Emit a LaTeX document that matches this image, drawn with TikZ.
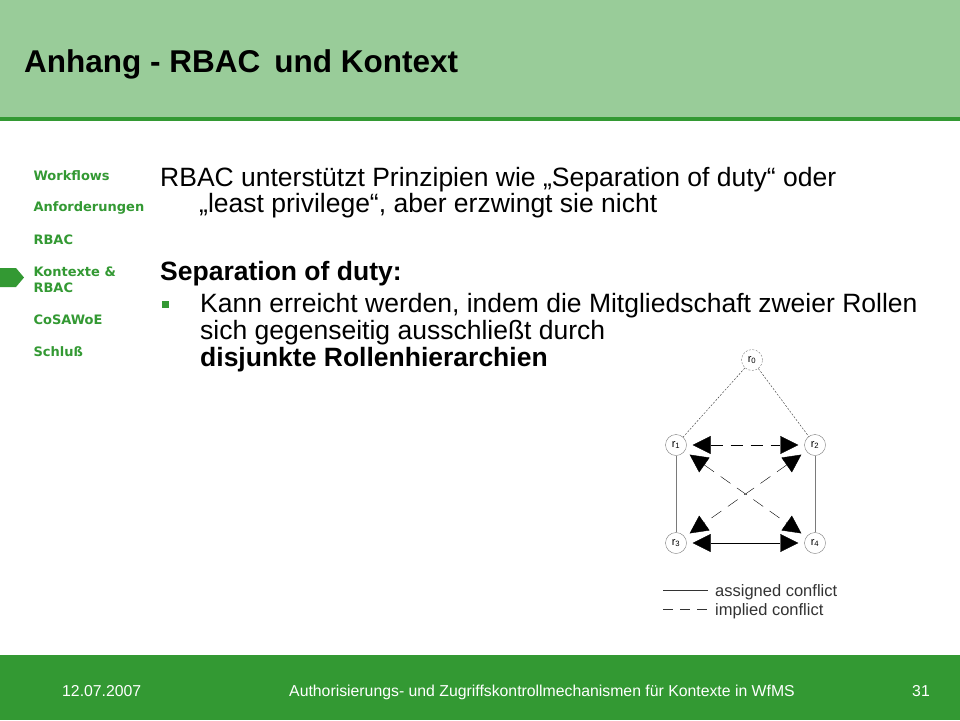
\documentclass[tikz,border=0pt]{standalone}
\usepackage{fontspec}
\setmainfont{Liberation Sans}
\newfontfamily\navfont{DejaVu Sans}
\usetikzlibrary{arrows.meta}
\definecolor{headgreen}{HTML}{99CC99}
\definecolor{darkgreen}{HTML}{339933}
\definecolor{linegray}{HTML}{7A7A7A}
\definecolor{textgray}{HTML}{333333}

\begin{document}
\begin{tikzpicture}[x=1pt,y=-1pt,
        role/.style={circle,draw=linegray,minimum size=21pt,inner sep=0pt,font=\fontsize{11}{11}\selectfont},
        nav/.style={anchor=west,align=left,text=darkgreen,font=\navfont\bfseries\fontsize{13}{16}\selectfont},
        body/.style={anchor=base west,inner sep=0pt,font=\fontsize{26.5}{26.5}\selectfont},
        conflict/.style={{Triangle[length=18pt,width=18pt]}-{Triangle[length=18pt,width=18pt]},shorten <=6pt,shorten >=6pt},
        implied/.style={conflict,dash pattern=on 12pt off 8pt}]
        \useasboundingbox (0,0) rectangle (960,720);
        \fill[white] (0,0) rectangle (960,720);
        % header and footer
        \fill[headgreen] (0,0) rectangle (960,117);
        \fill[darkgreen] (0,117) rectangle (960,121);
        \fill[darkgreen] (0,655) rectangle (960,720);
        \node[anchor=base west,inner sep=0pt,font=\bfseries\fontsize{31.5}{31.5}\selectfont] (T) at (24,72) {Anhang - RBAC\, und Kontext};
        \node[anchor=base west,inner sep=0pt,text=white,font=\fontsize{15.8}{15.8}\selectfont] (D) at (62,696) {12.07.2007};
        \node[anchor=base,inner sep=0pt,text=white,font=\fontsize{15.8}{15.8}\selectfont] (F) at (542,696) {Authorisierungs- und Zugriffskontrollmechanismen für Kontexte in WfMS};
        \node[anchor=base west,inner sep=0pt,text=white,font=\fontsize{15.8}{15.8}\selectfont] (P) at (912,696) {31};
        % navigation
        \node[nav] (N1) at (30,176) {Workflows};
        \node[nav] (N2) at (30,208) {Anforderungen};
        \node[nav] (N3) at (30,240) {RBAC};
        \node[nav] (N4) at (30,280) {Kontexte \&\\RBAC};
        \node[nav] (N5) at (30,320) {CoSAWoE};
        \node[nav] (N6) at (30,352) {Schluß};
        \fill[darkgreen] (0,268) -- (16,268) -- (24,277.5) -- (16,287) -- (0,287) -- cycle;
        % text
        \node[body] (L1) at (160,186) {RBAC unterstützt Prinzipien wie „Separation of duty“ oder};
        \node[body] (L2) at (199,212) {„least privilege“, aber erzwingt sie nicht};
        \node[body,font=\bfseries\fontsize{26.5}{26.5}\selectfont] (S) at (160,280) {Separation of duty:};
        \node[fill=darkgreen,minimum size=7pt,inner sep=0pt] (B) at (165,304) {};
        \node[body] (K1) at (200,312) {Kann erreicht werden, indem die Mitgliedschaft zweier Rollen};
        \node[body] (K2) at (200,339) {sich gegenseitig ausschließt durch};
        \node[body,font=\bfseries\fontsize{26.5}{26.5}\selectfont] (K3) at (200,366) {disjunkte Rollenhierarchien};
        % roles
        \node[role,dash pattern=on 2pt off 1.5pt] (R0) at (752,360) {r\textsubscript{0}};
        \node[role] (R1) at (676,445) {r\textsubscript{1}};
        \node[role] (R2) at (815,445) {r\textsubscript{2}};
        \node[role] (R3) at (676,543) {r\textsubscript{3}};
        \node[role] (R4) at (815,543) {r\textsubscript{4}};
        \draw[textgray,dash pattern=on 2pt off 1.5pt] (R0) -- (R1);
        \draw[textgray,dash pattern=on 2pt off 1.5pt] (R0) -- (R2);
        \draw[linegray] (R1) -- (R3);
        \draw[linegray] (R2) -- (R4);
        \draw[implied] (R1) -- (R2);
        \draw[implied] (R1) -- (R4);
        \draw[implied] (R2) -- (R3);
        \draw[conflict] (R3) -- (R4);
        % legend
        \coordinate (A1) at (663,590.5);
        \coordinate (A2) at (708,590.5);
        \coordinate (I1) at (663,609);
        \coordinate (I2) at (708,609);
        \draw[textgray] (A1) -- (A2);
        \draw[textgray,dash pattern=on 10pt off 7pt] (I1) -- (I2);
        \node[anchor=base west,inner sep=0pt,text=textgray,font=\fontsize{16.5}{16.5}\selectfont] (LA) at (715,596) {assigned conflict};
        \node[anchor=base west,inner sep=0pt,text=textgray,font=\fontsize{16.5}{16.5}\selectfont] (LI) at (715,615) {implied conflict};
\end{tikzpicture}
\end{document}
